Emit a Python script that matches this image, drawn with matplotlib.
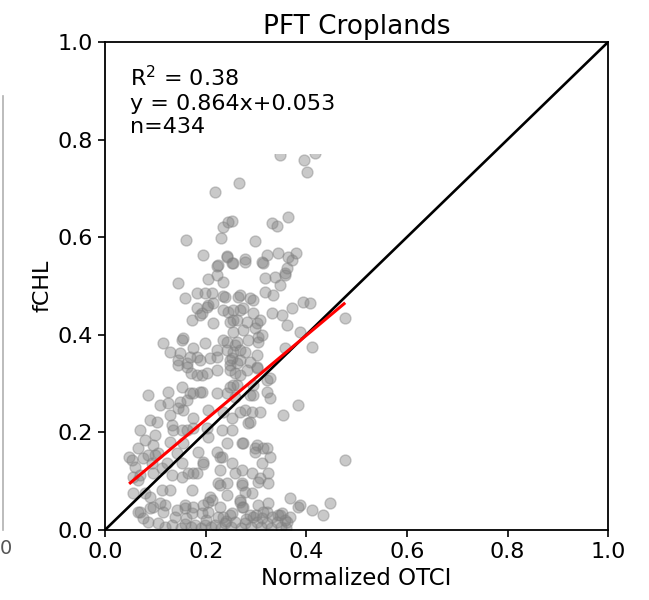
import numpy as np
import matplotlib
matplotlib.use('Agg')
import matplotlib.pyplot as plt
from matplotlib.lines import Line2D

# normalized OTCI vs fCHL for the cropland sites
otci = np.array([
    0.348, 0.396, 0.402, 0.417, 0.266, 0.219, 0.252, 0.235, 0.245, 0.231,
    0.161, 0.332, 0.342, 0.364, 0.298, 0.195, 0.243, 0.252, 0.278, 0.322,
    0.344, 0.364, 0.380, 0.312, 0.372, 0.223, 0.243,
    0.254, 0.314, 0.362, 0.358, 0.318, 0.338, 0.348, 0.318, 0.334, 0.268,
    0.288, 0.264, 0.294, 0.239, 0.145, 0.205, 0.223, 0.235, 0.225, 0.159,
    0.183, 0.199, 0.213,
    0.183, 0.205, 0.173, 0.193, 0.215, 0.245, 0.254, 0.215, 0.372, 0.394,
    0.408, 0.332, 0.352, 0.362, 0.388, 0.254, 0.274, 0.294, 0.282, 0.308,
    0.235, 0.249, 0.254, 0.274, 0.298, 0.312, 0.302, 0.477,
    0.412, 0.358, 0.302, 0.302, 0.115, 0.155, 0.129, 0.175, 0.199, 0.223,
    0.243, 0.145, 0.189, 0.169, 0.209, 0.252, 0.262, 0.284, 0.304, 0.278,
    0.268, 0.235, 0.304,
    0.145, 0.163, 0.171, 0.193, 0.153, 0.125, 0.085, 0.169, 0.189, 0.203,
    0.223, 0.249, 0.258, 0.249, 0.288, 0.328, 0.268, 0.282, 0.254, 0.294,
    0.322, 0.288, 0.109, 0.149, 0.223, 0.249, 0.258, 0.328, 0.384, 0.125,
    0.145, 0.163,
    0.089, 0.070, 0.080, 0.099, 0.133, 0.153, 0.175, 0.129, 0.155, 0.175,
    0.205, 0.235, 0.203, 0.095, 0.129, 0.155, 0.205, 0.233, 0.252, 0.243,
    0.143, 0.185, 0.223, 0.354, 0.268, 0.292, 0.308, 0.284, 0.274, 0.302,
    0.314, 0.298, 0.328, 0.312, 0.477,
    0.066, 0.054, 0.076, 0.099, 0.070, 0.113, 0.133, 0.153, 0.175, 0.056,
    0.089, 0.113, 0.095, 0.119, 0.070, 0.143, 0.159, 0.173, 0.195, 0.209,
    0.229, 0.225, 0.229, 0.229, 0.195, 0.153, 0.066, 0.095, 0.252, 0.258,
    0.272, 0.292, 0.308, 0.324, 0.324, 0.243, 0.272, 0.278, 0.292, 0.268,
    0.304, 0.322, 0.344, 0.368, 0.388, 0.412, 0.433, 0.447, 0.080, 0.173,
    0.205, 0.115, 0.139, 0.274, 0.384, 0.235, 0.294, 0.358,
    0.085, 0.105, 0.133, 0.159, 0.179, 0.199, 0.219, 0.239, 0.258, 0.278,
    0.302, 0.322, 0.342, 0.362, 0.352, 0.288, 0.252, 0.225, 0.076, 0.312,
    0.332, 0.368,
    0.120, 0.150, 0.170, 0.190, 0.210, 0.230, 0.250, 0.270, 0.290, 0.310,
    0.330, 0.350, 0.360, 0.200, 0.240, 0.280, 0.160, 0.300, 0.060, 0.048,
    0.153, 0.149, 0.203, 0.189, 0.262, 0.268, 0.254, 0.258, 0.243, 0.268,
    0.183, 0.223, 0.163, 0.183, 0.302, 0.249, 0.262, 0.322, 0.262, 0.175,
    0.193, 0.243, 0.294, 0.103, 0.135, 0.163, 0.252, 0.288, 0.278, 0.272,
    0.298, 0.322, 0.093, 0.165, 0.129, 0.183, 0.123, 0.085, 0.105, 0.056,
    0.195, 0.233, 0.304, 0.229, 0.272, 0.205, 0.213, 0.175, 0.159, 0.066,
    0.089, 0.109, 0.193, 0.243, 0.272, 0.268, 0.324, 0.249, 0.314, 0.348,
    0.358, 0.278, 0.235,
])
fchl = np.array([
    0.768, 0.758, 0.734, 0.773, 0.711, 0.693, 0.633, 0.621, 0.631, 0.598,
    0.594, 0.629, 0.623, 0.641, 0.592, 0.564, 0.561, 0.547, 0.555, 0.564,
    0.568, 0.559, 0.568, 0.549, 0.553, 0.541, 0.559,
    0.547, 0.547, 0.537, 0.523, 0.516, 0.518, 0.502, 0.488, 0.482, 0.482,
    0.475, 0.477, 0.471, 0.477, 0.506, 0.514, 0.523, 0.508, 0.543, 0.475,
    0.486, 0.486, 0.486,
    0.455, 0.461, 0.430, 0.445, 0.424, 0.447, 0.430, 0.465, 0.455, 0.467,
    0.465, 0.445, 0.441, 0.420, 0.406, 0.451, 0.455, 0.445, 0.426, 0.430,
    0.451, 0.426, 0.406, 0.410, 0.414, 0.400, 0.424, 0.434,
    0.375, 0.373, 0.359, 0.332, 0.383, 0.393, 0.365, 0.373, 0.383, 0.369,
    0.385, 0.348, 0.348, 0.355, 0.352, 0.352, 0.385, 0.389, 0.385, 0.365,
    0.348, 0.389, 0.395,
    0.338, 0.334, 0.322, 0.318, 0.293, 0.283, 0.277, 0.281, 0.283, 0.322,
    0.328, 0.338, 0.322, 0.348, 0.344, 0.311, 0.318, 0.328, 0.297, 0.297,
    0.283, 0.277, 0.256, 0.262, 0.281, 0.293, 0.273, 0.271, 0.256, 0.260,
    0.250, 0.266,
    0.225, 0.205, 0.184, 0.195, 0.215, 0.205, 0.209, 0.236, 0.246, 0.229,
    0.246, 0.242, 0.209, 0.174, 0.180, 0.178, 0.191, 0.205, 0.205, 0.178,
    0.158, 0.160, 0.160, 0.236, 0.242, 0.242, 0.242, 0.219, 0.178, 0.174,
    0.168, 0.160, 0.150, 0.137, 0.143,
    0.168, 0.143, 0.148, 0.154, 0.113, 0.127, 0.113, 0.109, 0.117, 0.076,
    0.068, 0.082, 0.047, 0.051, 0.037, 0.041, 0.051, 0.035, 0.051, 0.068,
    0.047, 0.096, 0.123, 0.150, 0.139, 0.137, 0.102, 0.117, 0.137, 0.117,
    0.123, 0.117, 0.107, 0.117, 0.096, 0.072, 0.096, 0.078, 0.076, 0.057,
    0.051, 0.037, 0.031, 0.066, 0.051, 0.041, 0.031, 0.055, 0.076, 0.082,
    0.037, 0.037, 0.027, 0.047, 0.047, 0.027, 0.027, 0.020,
    0.016, 0.014, 0.010, 0.012, 0.010, 0.010, 0.010, 0.014, 0.016, 0.014,
    0.016, 0.014, 0.016, 0.016, 0.035, 0.031, 0.035, 0.027, 0.025, 0.025,
    0.027, 0.027,
    0.005, 0.004, 0.006, 0.003, 0.005, 0.004, 0.006, 0.003, 0.005, 0.006,
    0.004, 0.005, 0.003, 0.020, 0.018, 0.022, 0.025, 0.030, 0.128, 0.150,
    0.389, 0.363, 0.457, 0.441, 0.430, 0.451, 0.365, 0.379, 0.369, 0.369,
    0.355, 0.355, 0.342, 0.318, 0.334, 0.328, 0.342, 0.307, 0.297, 0.281,
    0.283, 0.281, 0.277, 0.221, 0.205, 0.205, 0.229, 0.221, 0.246, 0.178,
    0.168, 0.168, 0.137, 0.117, 0.082, 0.117, 0.137, 0.154, 0.158, 0.109,
    0.135, 0.150, 0.098, 0.092, 0.047, 0.057, 0.061, 0.047, 0.045, 0.037,
    0.045, 0.055, 0.035, 0.096, 0.092, 0.061, 0.055, 0.031, 0.037, 0.031,
    0.527, 0.549, 0.479,
])

# regression reported in the panel
slope = 0.864
intercept = 0.053
r2 = 0.38
n_obs = 434
fit_range = [0.05, 0.475]

fig = plt.figure(figsize=(6.49, 6.0), dpi=100)
ax = fig.add_axes([0.162, 0.117, 0.775, 0.813])

ax.scatter(otci, fchl, s=62, c='gray', edgecolors='gray', linewidths=1.0,
           alpha=0.42, zorder=2)

ax.plot([0, 1], [0, 1], color='black', lw=1.9, zorder=3)
xf = np.array(fit_range)
ax.plot(xf, slope * xf + intercept, color='red', lw=2.2, zorder=4)

ax.text(0.05, 0.952,
        'R$^2$ = %.2f\ny = %.3fx+%.3f\nn=%d' % (r2, slope, intercept, n_obs),
        transform=ax.transAxes, ha='left', va='top', fontsize=16,
        bbox=dict(facecolor='white', edgecolor='none', pad=12), zorder=5)

ax.set_xlim(0, 1)
ax.set_ylim(0, 1)
ax.set_xticks([0, 0.2, 0.4, 0.6, 0.8, 1.0])
ax.set_yticks([0, 0.2, 0.4, 0.6, 0.8, 1.0])
ax.tick_params(labelsize=16, width=1.2, length=5)
for sp in ax.spines.values():
    sp.set_linewidth(1.3)

ax.set_title('PFT Croplands', fontsize=19)
ax.set_xlabel('Normalized OTCI', fontsize=16.5)
ax.set_ylabel('fCHL', fontsize=16)

# edge of the neighbouring panel on the left
fig.add_artist(Line2D([0.004, 0.004], [0.117, 0.84], color='#b0b0b0', lw=1.2))
fig.text(0.0, 0.085, '0', fontsize=14, ha='left', va='center', color='#555555')

fig.savefig('out.png', dpi=100)
